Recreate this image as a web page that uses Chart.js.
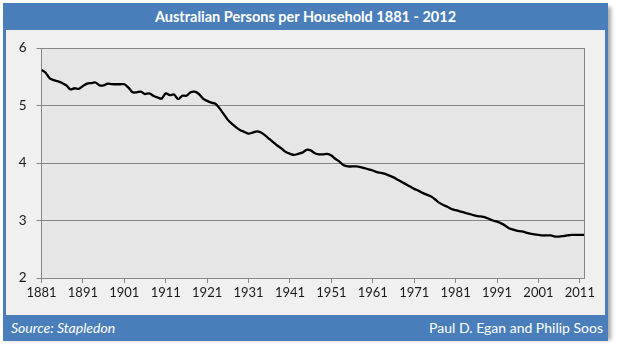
<!DOCTYPE html>
<html>
<head>
<meta charset="utf-8">
<script src="https://cdn.jsdelivr.net/npm/chart.js@4"></script>
<style>
  html, body { margin: 0; padding: 0; background: #ffffff; }
  #wrap { position: relative; width: 617px; height: 352px; overflow: hidden; font-family: Lato, "Open Sans", sans-serif; }
  #frame {
    position: absolute; left: 3px; top: 3px; width: 599px; height: 333px;
    background: #f0f0f0; border: 3px solid #4a7ebb; border-top: 0; border-bottom: 0;
    box-shadow: 3px 4px 4px rgba(0,0,0,0.35);
  }
  #titlebar {
    position: absolute; left: 3px; top: 3px; width: 605px; height: 27px;
    background: #4a7ebb; color: #fff; font-weight: bold; font-size: 14.5px;
    text-align: center; line-height: 28px;
  }
  #footer {
    position: absolute; left: 3px; top: 315px; width: 605px; height: 26px;
    background: #4a7ebb; color: #fff; font-size: 14px; line-height: 25px;
  }
  #footer .src { position: absolute; left: 8px; font-style: italic; }
  #footer .auth { position: absolute; right: 5px; }
  canvas { position: absolute; left: 0; top: 0; }
</style>
</head>
<body>
<div id="wrap">
  <div id="frame"></div>
  <canvas id="chartHogar" width="617" height="352"></canvas>
  <div id="titlebar">Australian Persons per Household 1881 - 2012</div>
  <div id="footer"><span class="src">Source: Stapledon</span><span class="auth">Paul D. Egan and Philip Soos</span></div>
</div>
<script>
const firstYear = 1881;
const lastYear = 2012;
const yTicks = [2, 3, 4, 5, 6];
const xTicks = [1881, 1891, 1901, 1911, 1921, 1931, 1941, 1951, 1961, 1971, 1981, 1991, 2001, 2011];

// persons per household, one value per year 1881..2012
const personas = [
  5.62, 5.57, 5.47, 5.44, 5.42, 5.39, 5.35, 5.28, 5.30, 5.29,
  5.34, 5.38, 5.39, 5.40, 5.35, 5.35, 5.38, 5.37, 5.37, 5.37,
  5.37, 5.31, 5.23, 5.23, 5.24, 5.20, 5.21, 5.17, 5.14, 5.12,
  5.21, 5.18, 5.19, 5.11, 5.17, 5.17, 5.23, 5.24, 5.20, 5.12,
  5.08, 5.05, 5.03, 4.95, 4.85, 4.75, 4.68, 4.62, 4.57, 4.54,
  4.51, 4.53, 4.55, 4.53, 4.48, 4.42, 4.36, 4.30, 4.25, 4.19,
  4.16, 4.14, 4.16, 4.18, 4.23, 4.22, 4.17, 4.15, 4.15, 4.16,
  4.13, 4.07, 4.02, 3.96, 3.94, 3.94, 3.94, 3.93, 3.91, 3.89,
  3.87, 3.84, 3.83, 3.81, 3.78, 3.75, 3.71, 3.67, 3.63, 3.59,
  3.55, 3.52, 3.48, 3.45, 3.42, 3.37, 3.31, 3.27, 3.24, 3.20,
  3.18, 3.16, 3.14, 3.12, 3.10, 3.08, 3.07, 3.06, 3.03, 3.00,
  2.98, 2.95, 2.91, 2.86, 2.84, 2.82, 2.81, 2.79, 2.77, 2.76,
  2.75, 2.74, 2.74, 2.74, 2.72, 2.72, 2.73, 2.74, 2.75, 2.75,
  2.75, 2.75
];

const puntos = personas.map((v, i) => ({ x: firstYear + i, y: v }));

const fondoPlot = {
  id: 'fondoPlot',
  beforeDraw(chart) {
    const a = chart.chartArea;
    const c = chart.ctx;
    c.save();
    c.fillStyle = '#e6e6e6';
    c.fillRect(a.left, a.top, a.right - a.left, a.bottom - a.top);
    c.restore();
  },
  afterDatasetsDraw(chart) {
    const a = chart.chartArea;
    const c = chart.ctx;
    c.save();
    c.strokeStyle = '#868686';
    c.lineWidth = 1;
    c.beginPath();
    c.moveTo(Math.round(a.right) + 0.5, a.top);
    c.lineTo(Math.round(a.right) + 0.5, a.bottom);
    c.stroke();
    c.restore();
  }
};

const ctx = document.getElementById('chartHogar');

new Chart(ctx, {
  type: 'line',
  data: {
    datasets: [{
      data: puntos,
      borderColor: '#000000',
      borderWidth: 2.3,
      pointRadius: 0,
      tension: 0.3,
      fill: false
    }]
  },
  options: {
    responsive: false,
    animation: false,
    layout: { padding: { top: 48, right: 33, bottom: 44, left: 0 } },
    plugins: { legend: { display: false }, tooltip: { enabled: false } },
    scales: {
      x: {
        type: 'linear',
        min: firstYear,
        max: lastYear,
        afterBuildTicks: s => { s.ticks = xTicks.map(v => ({ value: v })); },
        afterFit: s => { s.height = 30; },
        grid: { drawOnChartArea: false, color: '#868686', tickLength: 5 },
        border: { color: '#868686' },
        ticks: {
          color: '#1a1a1a', font: { family: 'Lato', size: 13 },
          maxRotation: 0, autoSkip: false, padding: 2,
          callback: v => String(v)
        }
      },
      y: {
        min: 2,
        max: 6,
        afterBuildTicks: s => { s.ticks = yTicks.map(v => ({ value: v })); },
        afterFit: s => { s.width = 41.5; },
        grid: { color: '#868686', tickLength: 5 },
        border: { color: '#868686' },
        ticks: { color: '#1a1a1a', font: { family: 'Lato', size: 13.5 }, padding: 10 }
      }
    }
  },
  plugins: [fondoPlot]
});
</script>
</body>
</html>
